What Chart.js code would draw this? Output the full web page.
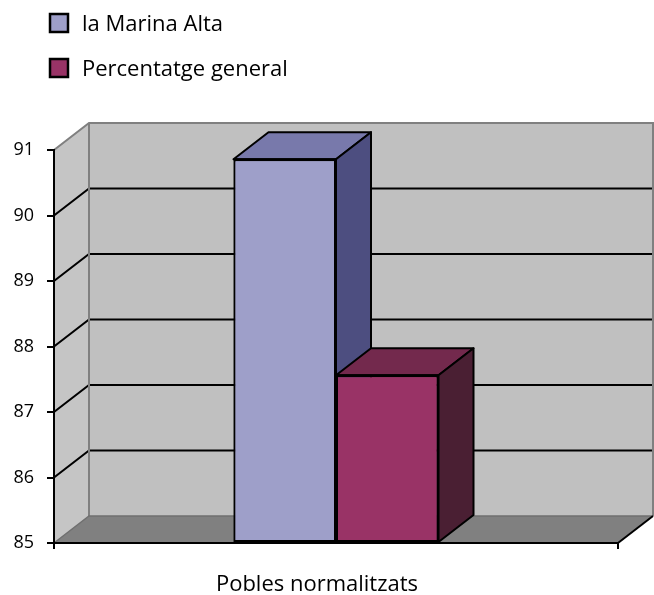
<!DOCTYPE html>
<html>
<head>
<meta charset="utf-8">
<title>Pobles normalitzats</title>
<style>
  html, body { margin: 0; padding: 0; background: #ffffff; }
  #wrap { width: 654px; height: 595px; position: relative; }
</style>
<script src="https://cdn.jsdelivr.net/npm/chart.js@4/dist/chart.umd.min.js"></script>
</head>
<body>
<div id="wrap"><canvas id="chart" width="654" height="595"></canvas></div>
<script>
// ---- data ----
const categories = ['Pobles normalitzats'];
const seriesNames = ['la Marina Alta', 'Percentatge general'];
const marinaAlta = [90.86];
const percentatgeGeneral = [87.56];
const yTicks = [85, 86, 87, 88, 89, 90, 91];

// ---- styling ----
const FONT = "'Open Sans', sans-serif";
const DEPTH_X = 35;          // horizontal offset of the back plane
const DEPTH_Y = 27;          // vertical offset of the back plane
const barShades = [
  { front: '#9e9fc9', top: '#7879ab', side: '#4d4e80' },
  { front: '#993366', top: '#73294d', side: '#4a1f33' }
];

function poly(ctx, pts, fill, stroke, width) {
  ctx.beginPath();
  ctx.moveTo(pts[0][0], pts[0][1]);
  for (let i = 1; i < pts.length; i++) ctx.lineTo(pts[i][0], pts[i][1]);
  ctx.closePath();
  if (fill) { ctx.fillStyle = fill; ctx.fill(); }
  if (stroke) { ctx.strokeStyle = stroke; ctx.lineWidth = width || 2; ctx.stroke(); }
}

function line(ctx, pts, color, width) {
  ctx.beginPath();
  ctx.moveTo(pts[0][0], pts[0][1]);
  for (let i = 1; i < pts.length; i++) ctx.lineTo(pts[i][0], pts[i][1]);
  ctx.strokeStyle = color;
  ctx.lineWidth = width;
  ctx.stroke();
}

// Walls, floor and gridlines of the 3D box, painted beneath the axes
const box3d = {
  id: 'box3d',
  beforeDraw(chart) {
    const ctx = chart.ctx;
    const { left, right, top, bottom } = chart.chartArea;
    const yScale = chart.scales.y;
    const dx = DEPTH_X, dy = DEPTH_Y;
    ctx.save();
    ctx.lineJoin = 'miter';
    // back wall
    poly(ctx, [[left + dx, top - dy], [right + dx, top - dy], [right + dx, bottom - dy], [left + dx, bottom - dy]], '#c0c0c0');
    // side wall
    poly(ctx, [[left, top], [left + dx, top - dy], [left + dx, bottom - dy], [left, bottom]], '#c5c5c5');
    // floor
    poly(ctx, [[left, bottom], [left + dx, bottom - dy], [right + dx, bottom - dy], [right, bottom]], '#808080');
    // gridlines on side and back walls
    yScale.ticks.forEach(t => {
      if (t.value <= yScale.min || t.value >= yScale.max) return;
      const y = yScale.getPixelForValue(t.value);
      line(ctx, [[left, y], [left + dx, y - dy], [right + dx, y - dy]], '#000000', 2);
    });
    // wall edges
    line(ctx, [[left, top], [left + dx, top - dy], [right + dx, top - dy], [right + dx, bottom - dy]], '#808080', 2);
    line(ctx, [[left + dx, top - dy], [left + dx, bottom - dy]], '#808080', 2);
    line(ctx, [[left, bottom], [left + dx, bottom - dy], [right + dx, bottom - dy]], '#6f6f6f', 1.5);
    // floor right edge
    line(ctx, [[right, bottom], [right + dx, bottom - dy]], '#000000', 2);
    ctx.restore();
  },
  // Bars are repainted left to right with their top and side faces
  afterDatasetsDraw(chart) {
    const ctx = chart.ctx;
    const dx = DEPTH_X, dy = DEPTH_Y;
    ctx.save();
    ctx.lineJoin = 'round';
    chart.data.datasets.forEach((ds, i) => {
      const meta = chart.getDatasetMeta(i);
      if (meta.hidden) return;
      meta.data.forEach(el => {
        const { x, y, base, width } = el.getProps(['x', 'y', 'base', 'width'], true);
        const l = x - width / 2, r = x + width / 2;
        el.draw(ctx);
        const shade = barShades[i];
        poly(ctx, [[l, y], [l + dx, y - dy], [r + dx, y - dy], [r, y]], shade.top, '#000000', 2);
        poly(ctx, [[r, y], [r + dx, y - dy], [r + dx, base - dy], [r, base]], shade.side, '#000000', 2);
        line(ctx, [[l, y], [r, y]], '#000000', 2);
      });
    });
    ctx.restore();
  },
  // Stacked legend in the top-left corner
  afterDraw(chart) {
    const ctx = chart.ctx;
    ctx.save();
    chart.data.datasets.forEach((ds, i) => {
      const bx = 50, by = 14 + i * 45, size = 18;
      ctx.fillStyle = ds.backgroundColor;
      ctx.fillRect(bx, by, size, size);
      ctx.strokeStyle = '#000000';
      ctx.lineWidth = 2.5;
      ctx.strokeRect(bx, by, size, size);
      ctx.fillStyle = '#000000';
      ctx.font = '22px ' + FONT;
      ctx.textAlign = 'left';
      ctx.textBaseline = 'middle';
      ctx.fillText(ds.label, 82, by + size / 2 + 2);
    });
    ctx.restore();
  }
};

new Chart(document.getElementById('chart'), {
  type: 'bar',
  data: {
    labels: categories,
    datasets: [
      {
        label: seriesNames[0],
        data: marinaAlta,
        base: yTicks[0],
        backgroundColor: barShades[0].front,
        borderColor: '#000000',
        borderWidth: 2,
        borderSkipped: false
      },
      {
        label: seriesNames[1],
        data: percentatgeGeneral,
        base: yTicks[0],
        backgroundColor: barShades[1].front,
        borderColor: '#000000',
        borderWidth: 2,
        borderSkipped: false
      }
    ]
  },
  options: {
    responsive: false,
    animation: false,
    events: [],
    categoryPercentage: 0.3635,
    barPercentage: 1,
    layout: { padding: { top: 150, right: 36, left: 0, bottom: 0 } },
    plugins: {
      legend: { display: false },
      tooltip: { enabled: false }
    },
    scales: {
      x: {
        grid: { display: true, drawOnChartArea: false, drawTicks: true, tickLength: 6, color: '#000000', lineWidth: 2, offset: true },
        border: { display: true, color: '#000000', width: 2 },
        ticks: { color: '#000000', font: { family: FONT, size: 22 }, padding: 23, labelOffset: -19, maxRotation: 0 },
        afterFit(scale) { scale.height = 52; }
      },
      y: {
        min: yTicks[0],
        max: yTicks[yTicks.length - 1],
        afterBuildTicks(scale) { scale.ticks = yTicks.map(v => ({ value: v })); },
        grid: { display: true, drawOnChartArea: false, drawTicks: true, tickLength: 7, color: '#000000', lineWidth: 2 },
        border: { display: true, color: '#000000', width: 2 },
        ticks: { color: '#000000', font: { family: FONT, size: 18 }, padding: 13 },
        afterFit(scale) { scale.width = 54; }
      }
    }
  },
  plugins: [box3d]
});
</script>
</body>
</html>
